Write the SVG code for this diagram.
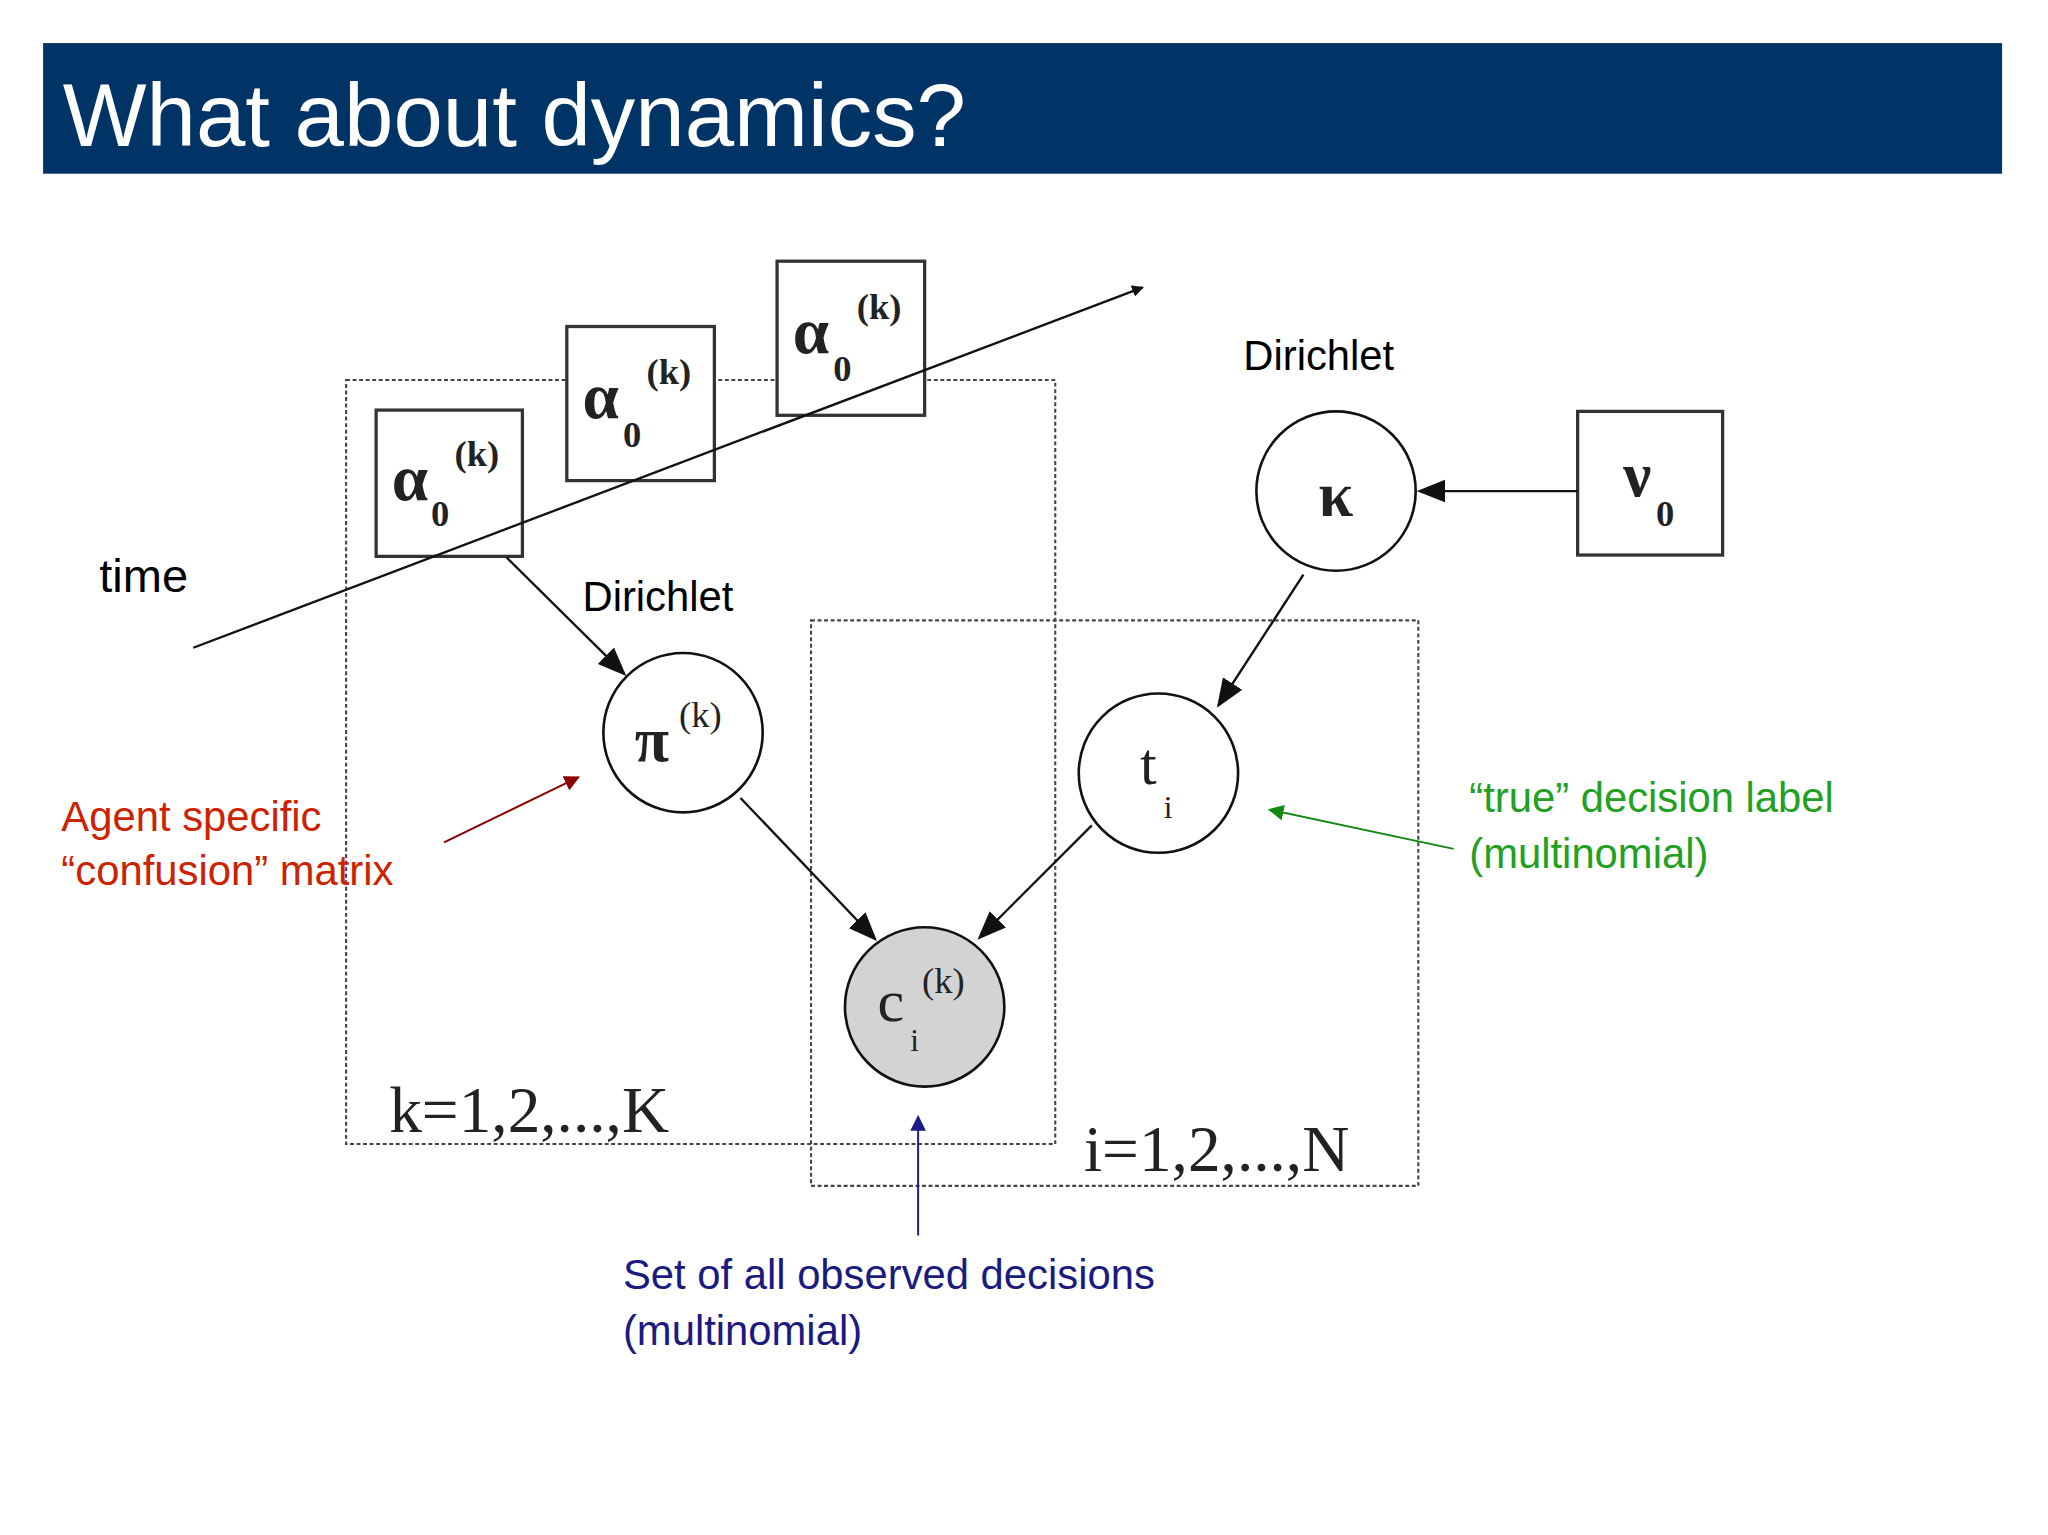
<svg xmlns="http://www.w3.org/2000/svg" width="2048" height="1535" viewBox="0 0 2048 1535">
<defs>
<style>
.s{font-family:"Liberation Sans",Arial,sans-serif}
.g{font-family:"Liberation Serif","Times New Roman",serif;fill:#222}
.box{fill:#fff;stroke:#333;stroke-width:2.5}
.c{fill:#fff;stroke:#111;stroke-width:2}
.dot{fill:none;stroke:#444;stroke-width:1.6;stroke-dasharray:3,2}
.e{stroke:#111;stroke-width:1.8;fill:none}
</style>
<marker id="a" viewBox="0 0 10 10" refX="9" refY="5" markerWidth="9" markerHeight="9" markerUnits="userSpaceOnUse" orient="auto"><path d="M0,0L10,5L0,10z" fill="#111"/></marker>
<marker id="ab" viewBox="0 0 10 10" refX="9" refY="5" markerWidth="22" markerHeight="22" markerUnits="userSpaceOnUse" orient="auto"><path d="M0,1L10,5L0,9z" fill="#111"/></marker>
<marker id="ar" viewBox="0 0 10 10" refX="9" refY="5" markerWidth="12" markerHeight="12" markerUnits="userSpaceOnUse" orient="auto"><path d="M0,0L10,5L0,10z" fill="#8b0000"/></marker>
<marker id="ag" viewBox="0 0 10 10" refX="9" refY="5" markerWidth="12" markerHeight="12" markerUnits="userSpaceOnUse" orient="auto"><path d="M0,0L10,5L0,10z" fill="#118811"/></marker>
<marker id="an" viewBox="0 0 10 10" refX="9" refY="5" markerWidth="12" markerHeight="12" markerUnits="userSpaceOnUse" orient="auto"><path d="M0,0L10,5L0,10z" fill="#1a1a80"/></marker>
</defs>
<rect width="2048" height="1535" fill="#fff"/>
<g transform="scale(1.306)">
<g id="title"><rect x="33" y="33" width="1500" height="100" fill="#003366"/>
<text x="48" y="112" class="s" font-size="68" fill="#fff">What about dynamics?</text></g>
<g id="plates">
<rect class="dot" x="265" y="291" width="543" height="585"/>
<rect class="dot" x="621" y="475" width="465" height="433"/>
<text x="298" y="867" class="g" font-size="50" fill="#444">k=1,2,...,K</text>
<text x="830" y="897" class="g" font-size="50" fill="#444">i=1,2,...,N</text>
</g>
<g id="alpha1"><rect class="box" x="288" y="314" width="112" height="112"/>
<text x="300" y="383" class="g" font-size="50" font-weight="bold">α</text><text x="348" y="357" class="g" font-size="28" font-weight="bold">(k)</text><text x="330" y="403" class="g" font-size="28" font-weight="bold">0</text></g>
<g id="alpha2"><rect class="box" x="434" y="250" width="113" height="118"/>
<text x="446" y="320" class="g" font-size="50" font-weight="bold">α</text><text x="495" y="294" class="g" font-size="28" font-weight="bold">(k)</text><text x="477" y="342" class="g" font-size="28" font-weight="bold">0</text></g>
<g id="alpha3"><rect class="box" x="595" y="200" width="113" height="118"/>
<text x="607" y="270" class="g" font-size="50" font-weight="bold">α</text><text x="656" y="244" class="g" font-size="28" font-weight="bold">(k)</text><text x="638" y="292" class="g" font-size="28" font-weight="bold">0</text></g>
<g id="kappa"><circle class="c" cx="1023" cy="376" r="61"/><text x="1023" y="395" class="g" font-size="48" font-weight="bold" text-anchor="middle">κ</text></g>
<g id="v0"><rect class="box" x="1208" y="315" width="111" height="110"/><text x="1243" y="380" class="g" font-size="48" font-weight="bold">ν</text><text x="1268" y="403" class="g" font-size="28" font-weight="bold">0</text></g>
<g id="pi"><circle class="c" cx="523" cy="561" r="61"/><text x="486" y="583" class="g" font-size="48" font-weight="bold">π</text><text x="520" y="557" class="g" font-size="28">(k)</text></g>
<g id="t"><circle class="c" cx="887" cy="592" r="61"/><text x="873" y="600" class="g" font-size="46">t</text><text x="891" y="626" class="g" font-size="24">i</text></g>
<g id="c"><circle cx="708" cy="771" r="61" fill="#d3d3d3" stroke="#111" stroke-width="2"/><text x="672" y="782" class="g" font-size="46">c</text><text x="706" y="760" class="g" font-size="28">(k)</text><text x="697" y="805" class="g" font-size="24">i</text></g>
<g id="labels" class="s">
<text x="952" y="283" font-size="32" fill="#000">Dirichlet</text>
<text x="446" y="468" font-size="32" fill="#000">Dirichlet</text>
<text x="76" y="453" font-size="36" fill="#000">time</text>
<text x="47" y="636" font-size="32" fill="#cc2200">Agent specific</text>
<text x="47" y="678" font-size="32" fill="#cc2200">“confusion” matrix</text>
<text x="1125" y="622" font-size="32" fill="#22a022">“true” decision label</text>
<text x="1125" y="665" font-size="32" fill="#22a022">(multinomial)</text>
<text x="477" y="987" font-size="32" fill="#1a1a80">Set of all observed decisions</text>
<text x="477" y="1030" font-size="32" fill="#1a1a80">(multinomial)</text>
</g>
<g id="connectors">
<line class="e" x1="148" y1="496" x2="875" y2="220" marker-end="url(#a)" stroke-width="1.4"/>
<line class="e" x1="1208" y1="376" x2="1087" y2="376" marker-end="url(#ab)" stroke-width="2.5"/>
<line class="e" x1="388" y1="427" x2="478" y2="516" marker-end="url(#ab)"/>
<line class="e" x1="998" y1="440" x2="933" y2="540" marker-end="url(#ab)"/>
<line class="e" x1="567" y1="611" x2="670" y2="719" marker-end="url(#ab)"/>
<line class="e" x1="836" y1="632" x2="750" y2="718" marker-end="url(#ab)"/>
<line x1="340" y1="645" x2="443" y2="595" stroke="#8b0000" stroke-width="1.5" marker-end="url(#ar)"/>
<line x1="1113" y1="650" x2="972" y2="620" stroke="#118811" stroke-width="1.5" marker-end="url(#ag)"/>
<line x1="703" y1="946" x2="703" y2="855" stroke="#1a1a80" stroke-width="1.5" marker-end="url(#an)"/>
</g>
</g>
</svg>
